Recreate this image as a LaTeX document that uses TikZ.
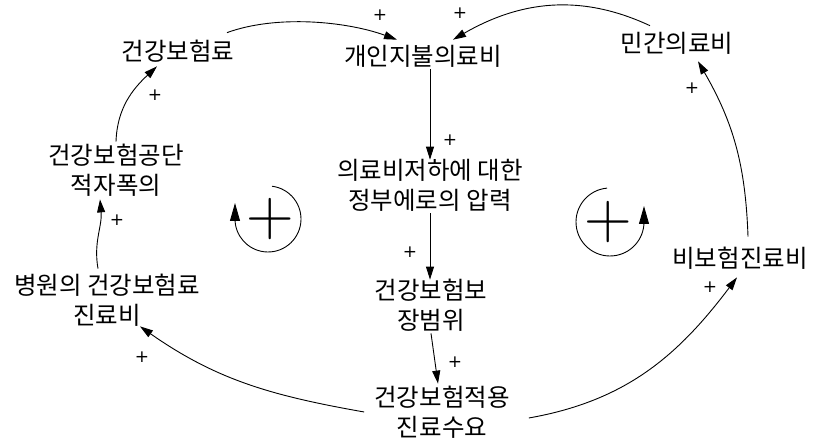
\documentclass[tikz,border=0pt]{standalone}
\usepackage{fontspec}
\newfontfamily\krfont{Noto Sans CJK KR}
\newfontfamily\sgnfont{DejaVu Sans}
\usetikzlibrary{arrows.meta}

\begin{document}
\begin{tikzpicture}[x=1pt, y=1pt,
  var/.style={align=center, inner sep=2pt, font=\krfont\fontsize{24.5}{30}\selectfont},
  arr/.style={-{Triangle[length=13pt,width=8pt]}, line width=0.9pt},
  larr/.style={-{Triangle[length=18pt,width=10pt]}, line width=0.9pt},
  sgn/.style={font=\sgnfont\fontsize{17}{17}\selectfont, inner sep=0pt},
  bigsgn/.style={font=\fontsize{66}{66}\selectfont, inner sep=0pt}
]
\useasboundingbox (0,0) rectangle (816,443);

% Variables
\node[var] (prem)    at (178,392) {건강보험료};
\node[var] (oop)     at (423,387) {개인지불의료비};
\node[var] (priv)    at (677,400) {민간의료비};
\node[var] (deficit) at (116,273) {건강보험공단\\적자폭의};
\node[var] (press)   at (430,258) {의료비저하에 대한\\정부에로의 압력};
\node[var] (hosp)    at (107,143) {병원의 건강보험료\\진료비};
\node[var] (cover)   at (431,138) {건강보험보\\장범위};
\node[var] (nonins)  at (740,185) {비보험진료비};
\node[var] (demand)  at (442,31)  {건강보험적용\\진료수요};

% Links
\draw[arr] ([shift={(49pt,5pt)}]prem.north) to[out=20, in=160, looseness=0.8] ([shift={(-26pt,3pt)}]oop.north);
\draw[arr] ([shift={(-27pt,4pt)}]priv.north) to[out=155, in=30] ([shift={(30pt,3pt)}]oop.north);
\draw[arr] (press.north |- oop.south) -- ([yshift=-3pt]press.north);
\draw[arr] (press.south) -- ([yshift=-3pt]press.south |- cover.north);
\draw[arr] (cover.south) -- ([xshift=-4pt]demand.north);
\draw[arr] ([shift={(-8pt,0pt)}]demand.west) to[out=170, in=-35] ([shift={(33pt,2pt)}]hosp.south);
\draw[arr] ([shift={(17pt,-6pt)}]demand.east) to[out=10, in=233] ([shift={(-3pt,-6pt)}]nonins.south);
\draw[arr] ([shift={(8pt,8pt)}]nonins.north) to[out=92, in=-60] ([shift={(21pt,-5pt)}]priv.south);
\draw[arr] ([shift={(-9pt,3pt)}]hosp.north) to[out=100, in=-85] ([shift={(-16pt,-1pt)}]deficit.south);
\draw[arr] (deficit.north) to[out=88, in=223] ([shift={(-21pt,-2pt)}]prem.south);

% Polarity signs
\node[sgn] (s1)  at (380,428) {+};
\node[sgn] (s2)  at (460,430) {+};
\node[sgn] (s3)  at (450,303) {+};
\node[sgn] (s4)  at (410,191) {+};
\node[sgn] (s5)  at (455,81)  {+};
\node[sgn] (s6)  at (142,86)  {+};
\node[sgn] (s7)  at (710,156) {+};
\node[sgn] (s8)  at (692,355) {+};
\node[sgn] (s9)  at (117,223) {+};
\node[sgn] (s10) at (155,348) {+};

% Loop markers
\node[bigsgn] (loopL) at (270,224) {+};
\node[bigsgn] (loopR) at (608,221) {+};
\draw[larr] (268,224) ++(83:33) arc[start angle=83, end angle=-180, radius=33] -- ++(0,16);
\draw[larr] (610,221) ++(95:34) arc[start angle=95, end angle=360, radius=34] -- ++(0,16);

\end{tikzpicture}
\end{document}
